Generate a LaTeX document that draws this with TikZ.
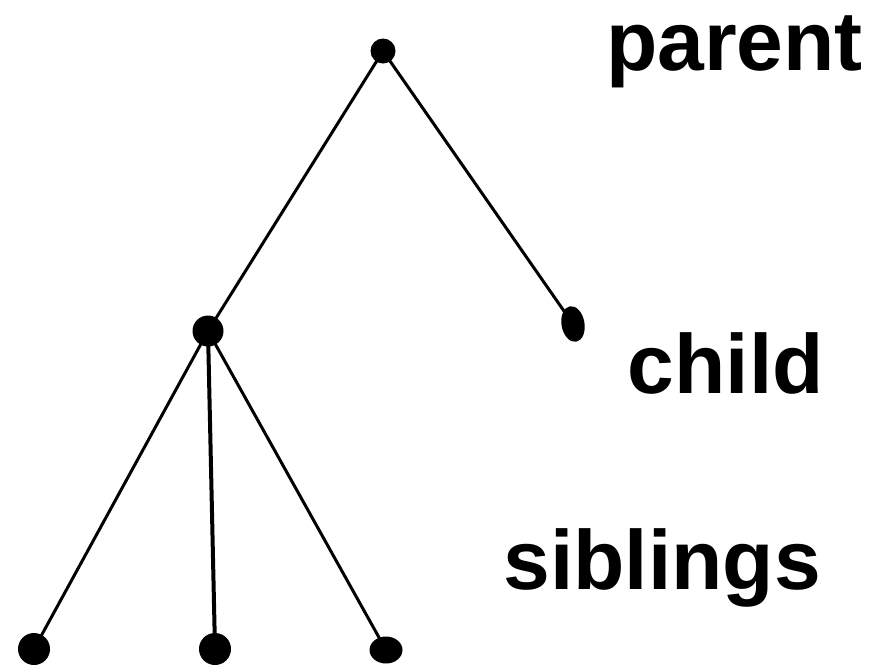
\documentclass[tikz,border=0pt]{standalone}
\usepackage{fontspec}
\setmainfont{Liberation Sans}
\usetikzlibrary{shapes.geometric}
\begin{document}
\begin{tikzpicture}[x=1pt,y=-1pt,
  dot/.style={fill=black,draw=none,ellipse,inner sep=0pt},
  edge/.style={line width=3pt,black},
  lbl/.style={anchor=base east,inner sep=0pt,font=\fontsize{84}{84}\bfseries\selectfont}]
\useasboundingbox (0,0) rectangle (872,670);
\node[dot,minimum width=25pt,minimum height=25pt] (p) at (383,51) {};
\node[dot,minimum width=31pt,minimum height=31pt] (m) at (208,331) {};
\node[dot,minimum width=23pt,minimum height=36pt,rotate=10] (c) at (573,324) {};
\node[dot,minimum width=32pt,minimum height=32pt] (s1) at (34,649) {};
\node[dot,minimum width=32pt,minimum height=32pt] (s2) at (215,649) {};
\node[dot,minimum width=33pt,minimum height=27pt] (s3) at (386,650) {};
\draw[edge] (p.center) -- (m.center);
\draw[edge] (p.center) -- (c.center);
\draw[edge] (m.center) -- (s1.center);
\draw[edge,line width=4pt] (m.center) -- (s2.center);
\draw[edge] (m.center) -- (s3.center);
\node[lbl] (tp) at (863,70) {parent};
\node[lbl] (tc) at (824,393) {child};
\node[lbl] (ts) at (821,589) {siblings};
\end{tikzpicture}
\end{document}
